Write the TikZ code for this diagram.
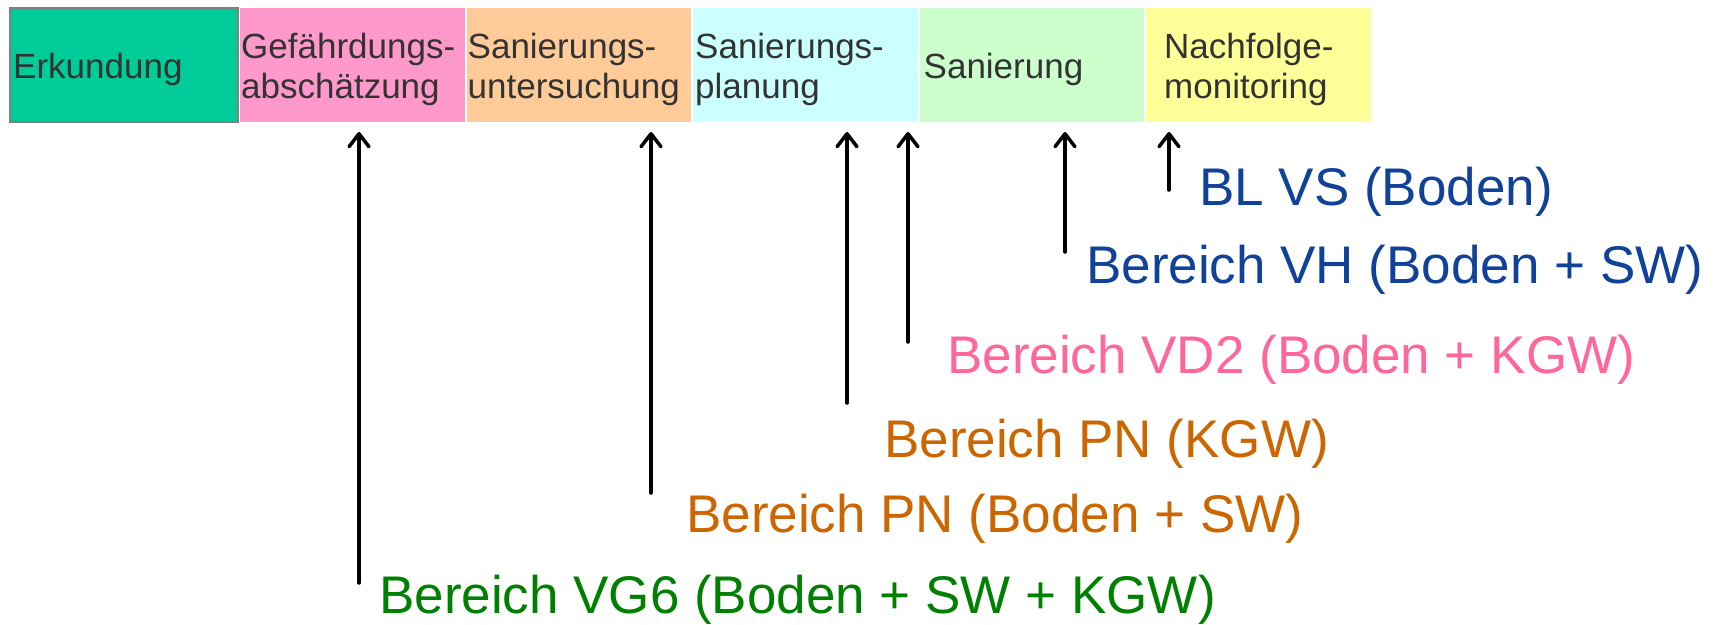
\documentclass[tikz,border=0pt]{standalone}
\usepackage{fontspec}
\setmainfont{Liberation Sans}
\usetikzlibrary{arrows.meta}

% phase colours
\definecolor{phaseErk}{HTML}{00CC99}
\definecolor{phaseBorder}{HTML}{808080}
\definecolor{phaseGef}{HTML}{FF99CC}
\definecolor{phaseSU}{HTML}{FFCC99}
\definecolor{phaseSP}{HTML}{CCFFFF}
\definecolor{phaseSan}{HTML}{CCFFCC}
\definecolor{phaseNach}{HTML}{FFFF99}
\definecolor{phaseText}{HTML}{333333}
% area label colours
\definecolor{areaBlue}{RGB}{16,66,153}
\definecolor{areaPink}{HTML}{FF6699}
\definecolor{areaOrange}{HTML}{CC6600}
\definecolor{areaGreen}{HTML}{008000}

\begin{document}
\begin{tikzpicture}[x=1pt,y=-1pt,
  phase/.style={rectangle, anchor=north west, minimum height=114pt,
    minimum width=224.5pt, inner sep=0pt, outer sep=0pt},
  phaselabel/.style={anchor=west, inner sep=0pt, align=left,
    text=phaseText, font=\fontsize{35}{40}\selectfont},
  area/.style={anchor=base west, inner sep=0pt, font=\fontsize{53}{60}\selectfont},
  arr/.style={line width=3.5pt, line cap=round, shorten >=10pt,
    -{Straight Barb[length=13pt,width=20pt,round]}}]

\useasboundingbox[fill=white] (0,0) rectangle (1726,624);

% project phases
\node[phase, fill=phaseErk, draw=phaseBorder, line width=2pt, minimum width=228pt] (p1) at (10,8) {};
\node[phase, fill=phaseGef]  (p2) at (240,8) {};
\node[phase, fill=phaseSU]   (p3) at (466.5,8) {};
\node[phase, fill=phaseSP]   (p4) at (693,8) {};
\node[phase, fill=phaseSan]  (p5) at (919.5,8) {};
\node[phase, fill=phaseNach] (p6) at (1146,8) {};

\node[phaselabel] (t1) at ([xshift=3pt,yshift=-4pt]p1.west) {Erkundung};
\node[phaselabel] (t2) at ([xshift=1pt,yshift=-4pt]p2.west) {Gefährdungs-\\abschätzung};
\node[phaselabel] (t3) at ([xshift=1pt,yshift=-4pt]p3.west) {Sanierungs-\\untersuchung};
\node[phaselabel] (t4) at ([xshift=2pt,yshift=-4pt]p4.west) {Sanierungs-\\planung};
\node[phaselabel] (t5) at ([xshift=4pt,yshift=-4pt]p5.west) {Sanierung};
\node[phaselabel] (t6) at ([xshift=18pt,yshift=-4pt]p6.west) {Nachfolge-\\monitoring};

% areas and the phase each one has reached
\node[area, text=areaBlue]   (bl)  at (1199,205) {BL VS (Boden)};
\node[area, text=areaBlue]   (vh)  at (1086,283) {Bereich VH (Boden + SW)};
\node[area, text=areaPink]   (vd2) at (947,373)  {Bereich VD2 (Boden + KGW)};
\node[area, text=areaOrange] (pnk) at (884,457)  {Bereich PN (KGW)};
\node[area, text=areaOrange] (pnb) at (686,532)  {Bereich PN (Boden + SW)};
\node[area, text=areaGreen]  (vg6) at (379,613)  {Bereich VG6 (Boden + SW + KGW)};

\coordinate (a1) at (359,583);
\coordinate (a2) at (651,493);
\coordinate (a3) at (847,403);
\coordinate (a4) at (908,342);
\coordinate (a5) at (1065,252);
\coordinate (a6) at (1169,190);

\draw[arr] (a1) -- (a1 |- p2.south);
\draw[arr] (a2) -- (a2 |- p3.south);
\draw[arr] (a3) -- (a3 |- p4.south);
\draw[arr] (a4) -- (a4 |- p4.south);
\draw[arr] (a5) -- (a5 |- p5.south);
\draw[arr] (a6) -- (a6 |- p6.south);
\end{tikzpicture}
\end{document}
